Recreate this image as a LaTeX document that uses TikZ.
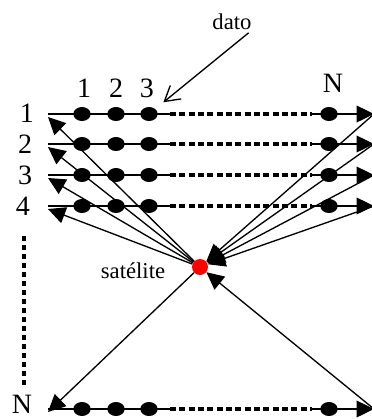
\documentclass[tikz,border=0pt]{standalone}
\usepackage{fontspec}
\setmainfont{Liberation Serif}
\usetikzlibrary{shapes.geometric, arrows.meta, calc}

\begin{document}
\begin{tikzpicture}[x=0.75pt, y=-0.75pt,
    pkt/.style={ellipse, fill=black, minimum width=13pt, minimum height=10.5pt, inner sep=0pt},
    num/.style={font=\fontsize{21}{21}\selectfont, inner sep=0pt},
    note/.style={font=\fontsize{17}{17}\selectfont, inner sep=0pt},
    ln/.style={line width=1pt},
    fl/.style={line width=1pt, -{Triangle[length=13pt, width=12.5pt]}},
    dsh/.style={line width=3pt, dash pattern=on 4.5pt off 2.5pt}
]
\useasboundingbox (0,0) rectangle (372,419);

% satellite
\node[circle, fill=red, minimum size=12pt, inner sep=0pt] (sat) at (200,267) {};
\node[note] (satlbl) at (133,271) {satélite};

% rows of packets
\foreach \r/\y in {1/114, 2/144, 3/175, 4/206, N/409} {
  \coordinate (s\r) at (48,\y);
  \coordinate (p\r) at (170,\y);
  \coordinate (q\r) at (312,\y);
  \coordinate (e\r) at (374,\y);
  \node[pkt] (d\r1) at (82,\y)  {};
  \node[pkt] (d\r2) at (116,\y) {};
  \node[pkt] (d\r3) at (149,\y) {};
  \node[pkt] (d\r4) at (329,\y) {};
  \draw[ln]  (s\r) -- (p\r);
  \draw[dsh] (p\r) -- (q\r);
  \draw[fl]  (q\r) -- (e\r);
  \draw[fl]  (sat) -- ($(s\r)+(0,3)$);
  \draw[fl]  (e\r) -- (sat);
}

% row and column labels
\foreach \t/\x/\y in {1/27/113, 2/25/144, 3/25/175, 4/23/206, N/22/404}
  \node[num] (row\t) at (\x,\y) {\t};
\node[num] (col1) at (84,88)  {1};
\node[num] (col2) at (116,88) {2};
\node[num] (col3) at (147,88) {3};
\node[num] (colN) at (333,83) {N};

% vertical dots between rows
\coordinate (vtop) at (24,236);
\coordinate (vbot) at (24,385);
\draw[line width=3.5pt, dash pattern=on 3.75pt off 3pt] (vtop) -- (vbot);

% data label
\node[note] (dato) at (232,22) {dato};
\draw[line width=1pt, -{Straight Barb[length=11pt, width=13pt]}, shorten <=3pt, shorten >=7.8pt]
  (dato.south east) -- (d13);
\end{tikzpicture}
\end{document}
